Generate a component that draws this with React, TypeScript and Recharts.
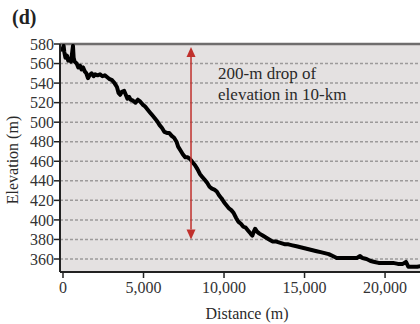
import React from 'react';
import {
  ComposedChart,
  Line,
  XAxis,
  YAxis,
  CartesianGrid,
  ReferenceLine,
  ReferenceDot,
} from 'recharts';

// Distance along profile (m)
const distance = [
  -60, 0, 40, 80, 150, 250, 320, 420, 500, 560, 620, 660, 720, 850, 950, 1050, 1150, 1250, 1350,
  1450, 1550, 1650, 1780, 1900, 2000, 2150, 2300, 2450, 2600, 2750, 2900, 3050, 3200, 3350, 3450,
  3550, 3650, 3800, 3900, 4000, 4100, 4200, 4350, 4500, 4650, 4800, 4950, 5100, 5250, 5400, 5550,
  5700, 5850, 6000, 6150, 6300, 6450, 6600, 6750, 6900, 7050, 7150, 7300, 7450, 7600, 7750, 7900,
  8050, 8200, 8350, 8500, 8650, 8800, 8950, 9100, 9250, 9400, 9550, 9700, 9850, 10000, 10150,
  10300, 10450, 10600, 10750, 10900, 11050, 11200, 11350, 11500, 11650, 11760, 11850, 11930,
  12050, 12200, 12400, 12600, 12800, 13000, 13200, 13400, 13600, 13800, 14000, 14250, 14500,
  14750, 15000, 15250, 15500, 15750, 16000, 16250, 16500, 16750, 17000, 17250, 17500, 17750,
  18000, 18250, 18450, 18600, 18850, 19100, 19350, 19600, 19900, 20200, 20500, 20800, 21100,
  21300, 21450, 21700, 22000, 22300,
];

// Elevation (m)
const elevation = [
  572, 576, 578, 572, 566, 568, 563, 565, 562, 570, 578, 566, 562, 560, 556, 558, 554, 556, 552,
  550, 545, 548, 550, 547, 549, 548, 549, 547, 548, 546, 544, 543, 540, 536, 530,
  528, 531, 532, 528, 524, 526, 523, 522, 520, 523, 521, 518, 516, 513, 510, 507,
  504, 501, 497, 494, 490, 489, 489, 486, 484, 480, 475, 471, 467, 464, 464, 462,
  459, 456, 452, 447, 444, 441, 438, 434, 432, 431, 429, 425, 422, 418, 415,
  412, 410, 407, 402, 398, 396, 393, 392, 389, 386, 384, 388, 391,
  388, 386, 384, 382, 380, 378, 378, 377, 376, 375, 375, 374, 373,
  372, 371, 370, 369, 368, 367, 366, 365, 363, 361, 361, 361, 361,
  361, 361, 363, 361, 360, 358, 357, 356, 356, 356, 356, 355, 355,
  357, 352, 352, 352, 353,
];

const xTicks = [0, 5000, 10000, 15000, 20000];
const yTicks = [360, 380, 400, 420, 440, 460, 480, 500, 520, 540, 560, 580];

const arrowX = 7950;
const arrowTop = 577;
const arrowBottom = 380;
const noteLines = ['200-m drop of', 'elevation in 10-km'];
const noteX = 9630;
const noteY = 550;

const data = distance.map((d, i) => ({ distance: d, elevation: elevation[i] }));

const FONT = '"Liberation Serif", "Times New Roman", serif';
const RED = '#c0302c';

const ArrowShape = (props: any) => {
  const { x1, y1, x2, y2 } = props;
  const top = Math.min(y1, y2);
  const bot = Math.max(y1, y2);
  const x = x1;
  const h = 10;
  const w = 4.5;
  return (
    <g>
      <line x1={x} y1={top + h} x2={x2} y2={bot - h} stroke={RED} strokeWidth={1.5} />
      <polygon points={`${x},${top} ${x - w},${top + h} ${x + w},${top + h}`} fill={RED} />
      <polygon points={`${x},${bot} ${x - w},${bot - h} ${x + w},${bot - h}`} fill={RED} />
    </g>
  );
};

const NoteShape = (props: any) => {
  const { cx, cy } = props;
  return (
    <g>
      {noteLines.map((t, i) => (
        <text
          key={i}
          x={cx}
          y={cy + i * 21}
          dominantBaseline="central"
          fontFamily={FONT}
          fontSize={17}
          fill="#2a2a2a"
        >
          {t}
        </text>
      ))}
    </g>
  );
};

const XLabel = (props: any) => {
  const { viewBox } = props;
  return (
    <text
      x={viewBox.x + viewBox.width / 2 + 7}
      y={313}
      dominantBaseline="central"
      textAnchor="middle"
      fontFamily={FONT}
      fontSize={16}
      fill="#2a2a2a"
    >
      Distance (m)
    </text>
  );
};

const YLabel = (props: any) => {
  const { viewBox } = props;
  const cy = viewBox.y + viewBox.height / 2 + 2;
  const cx = 12.5;
  return (
    <text
      x={cx}
      y={cy}
      transform={`rotate(-90, ${cx}, ${cy})`}
      dominantBaseline="central"
      textAnchor="middle"
      fontFamily={FONT}
      fontSize={16}
      fill="#2a2a2a"
    >
      Elevation (m)
    </text>
  );
};

export default function App() {
  return (
    <div style={{ position: 'absolute', left: 0, top: 0, width: 420, height: 324 }}>
      <div
        style={{
          position: 'absolute',
          left: 12,
          top: 7,
          fontFamily: FONT,
          fontWeight: 'bold',
          fontSize: 20,
          color: '#222',
          lineHeight: '20px',
        }}
      >
        (d)
      </div>
      <ComposedChart
        width={420}
        height={324}
        data={data}
        margin={{ top: 44, right: 0, bottom: 0, left: 8 }}
      >
        <CartesianGrid
          horizontal={true}
          vertical={false}
          fill="#e4e1e1"
          fillOpacity={1}
          stroke="#9c9a9a"
          strokeWidth={1.5}
          strokeDasharray="3 2"
        />
        <XAxis
          dataKey="distance"
          type="number"
          domain={[-186, 22170]}
          allowDataOverflow
          ticks={xTicks}
          interval={0}
          tickFormatter={(v: number) => v.toLocaleString('en-US')}
          height={52}
          tickSize={6}
          tickMargin={4}
          axisLine={{ stroke: '#222', strokeWidth: 2 }}
          tickLine={{ stroke: '#222', strokeWidth: 1.5 }}
          tick={{ fontFamily: FONT, fontSize: 16, fill: '#333' }}
          label={<XLabel />}
        />
        <YAxis
          type="number"
          domain={[346.7, 580]}
          allowDataOverflow
          ticks={yTicks}
          interval={0}
          width={52}
          tickSize={6}
          tickMargin={0}
          axisLine={{ stroke: '#222', strokeWidth: 2 }}
          tickLine={{ stroke: '#222', strokeWidth: 1.5 }}
          tick={{ fontFamily: FONT, fontSize: 16, fill: '#333' }}
          label={<YLabel />}
        />
        <ReferenceLine y={580} stroke="#6f6d6d" strokeWidth={2.5} />
        <Line
          type="linear"
          dataKey="elevation"
          stroke="#000"
          strokeWidth={4}
          strokeLinejoin="round"
          dot={false}
          isAnimationActive={false}
        />
        <ReferenceLine
          segment={[
            { x: arrowX, y: arrowTop },
            { x: arrowX, y: arrowBottom },
          ]}
          shape={<ArrowShape />}
        />
        <ReferenceDot x={noteX} y={noteY} r={0} shape={<NoteShape />} />
      </ComposedChart>
    </div>
  );
}
